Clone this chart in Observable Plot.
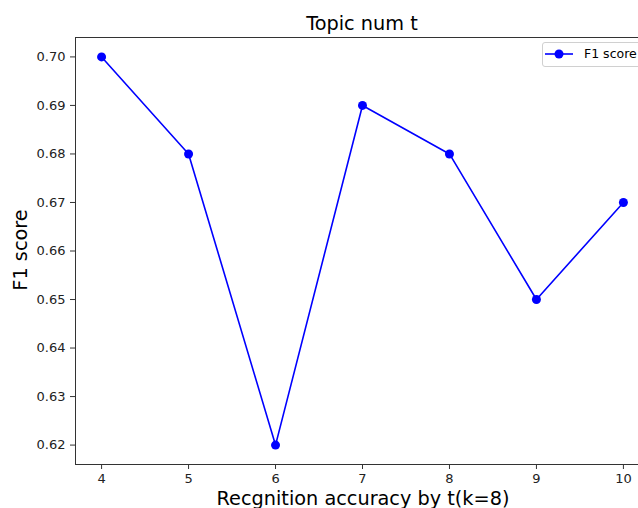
<!DOCTYPE html>
<html><head><meta charset="utf-8">
<script src="https://cdn.jsdelivr.net/npm/d3@7"></script>
<script src="https://cdn.jsdelivr.net/npm/@observablehq/plot@0.6"></script>
<style>
body{margin:0;background:#fff;font-family:"DejaVu Sans",sans-serif;}
#wrap{position:relative;width:638px;height:508px;overflow:hidden;}
.t{position:absolute;color:#000;white-space:nowrap;line-height:1;}
#title{top:13.5px;left:362px;transform:translateX(-50%);font-size:19.3px;}
#xlab{top:489px;left:363px;transform:translateX(-50%);font-size:19.3px;}
#ylab{top:250px;left:21px;transform:translate(-50%,-50%) rotate(-90deg);font-size:19.3px;}
#legend{position:absolute;left:542px;top:42px;width:130px;height:23px;border:1px solid #d0d0d0;border-radius:3px;background:#fff;font-size:12.5px;line-height:1;}
#legend svg{position:absolute;left:2px;top:3px;}
#legend span{position:absolute;left:41px;top:5px;}
</style></head>
<body><div id="wrap"></div>
<script>
const topics = [4, 5, 6, 7, 8, 9, 10];
const f1 = [0.70, 0.68, 0.62, 0.69, 0.68, 0.65, 0.67];
const xTicks = [4, 5, 6, 7, 8, 9, 10];
const yTicks = [0.62, 0.63, 0.64, 0.65, 0.66, 0.67, 0.68, 0.69, 0.70];
const titleText = "Topic num t";
const xLabel = "Recgnition accuracy by t(k=8)";
const yLabel = "F1 score";
const seriesName = "F1 score";

const data = topics.map((t, i) => ({t, f: f1[i]}));
const xDom = [3.7, 10.3], yDom = [0.616, 0.704];

const chart = Plot.plot({
  width: 638, height: 508,
  marginLeft: 75, marginTop: 37, marginBottom: 44, marginRight: 0,
  style: {fontFamily: "DejaVu Sans, sans-serif", fontSize: "13px", color: "#222", background: "#fff"},
  x: {domain: xDom, range: [75, 649]},
  y: {domain: yDom},
  marks: [
    Plot.axisX({ticks: xTicks, tickFormat: d3.format("d"), tickSize: 5, tickPadding: 4, label: null, stroke: "#333"}),
    Plot.axisY({ticks: yTicks, tickFormat: d3.format(".2f"), tickSize: 5, tickPadding: 5, label: null, stroke: "#333"}),
    Plot.ruleX(xDom, {stroke: "#333", strokeWidth: 1}),
    Plot.ruleY(yDom, {x1: xDom[0], x2: xDom[1], stroke: "#333", strokeWidth: 1}),
    Plot.line(data, {x: "t", y: "f", stroke: "#0000ff", strokeWidth: 1.6}),
    Plot.dot(data, {x: "t", y: "f", r: 4.5, fill: "#0000ff"})
  ]
});
const wrap = document.getElementById("wrap");
wrap.appendChild(chart);
chart.style.position = "absolute"; chart.style.left = "0"; chart.style.top = "0";

function addText(id, txt){const d=document.createElement("div");d.className="t";d.id=id;d.textContent=txt;wrap.appendChild(d);}
addText("title", titleText);
addText("xlab", xLabel);
addText("ylab", yLabel);
const lg = document.createElement("div"); lg.id = "legend";
lg.innerHTML = '<svg width="30" height="16"><line x1="0" y1="8" x2="28" y2="8" stroke="#0000ff" stroke-width="1.6"/><circle cx="14" cy="8" r="4.5" fill="#0000ff"/></svg>';
const sp = document.createElement("span"); sp.textContent = seriesName; lg.appendChild(sp);
wrap.appendChild(lg);
</script></body></html>
